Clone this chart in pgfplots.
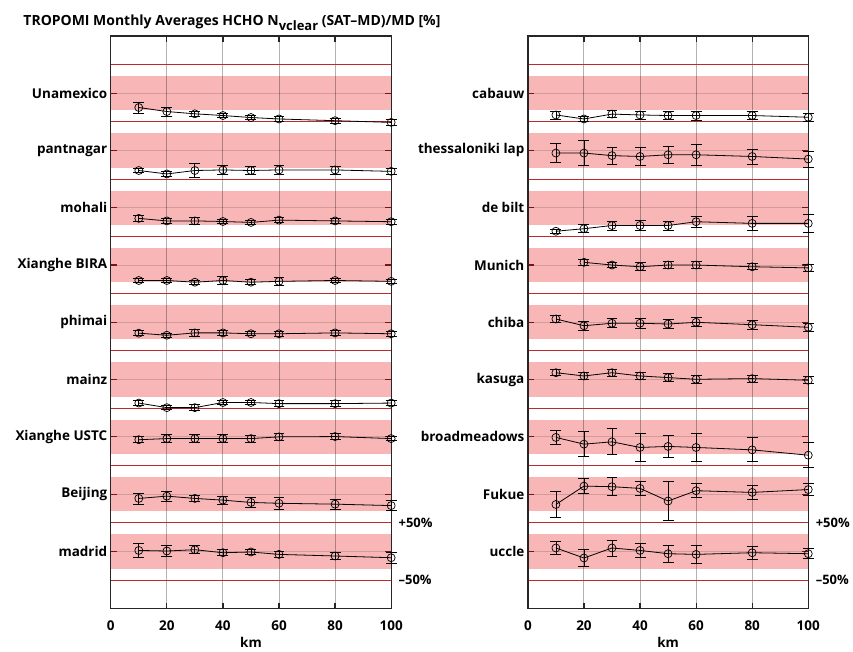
\documentclass[border=0pt]{standalone}
\usepackage{fontspec}
\setmainfont{Open Sans}
\usepackage{pgfplots}
\pgfplotsset{compat=1.18}
\definecolor{band}{RGB}{249,182,182}
\definecolor{redline}{RGB}{192,42,46}
\definecolor{tickred}{RGB}{120,20,25}

\pgfplotsset{
  stationaxis/.style={
    set layers, clip=false,
    scale only axis, width=281pt, height=574pt,
    xmin=0, xmax=100, ymin=-100, ymax=900,
    xtick={0,20,...,100}, ytick={0,100,...,800},
    tick align=inside, major tick length=6pt,
    xtick pos=both, ytick pos=both,
    axis line style={line width=1.3pt, black!85},
    xtick style={line width=1.2pt, black!85},
    ytick style={line width=1.2pt, tickred},
    /pgf/number format/assume math mode=true,
    xticklabel style={font=\bfseries\fontsize{13.5}{15}\selectfont, yshift=-9pt},
    yticklabel style={font=\bfseries\fontsize{13.5}{15}\selectfont},
    xlabel={km}, xlabel style={font=\bfseries\fontsize{13.5}{15}\selectfont, yshift=1pt},
  },
  stn/.style={black, line width=0.8pt, mark=o, mark size=4pt,
    mark options={line width=0.7pt},
    error bars/.cd, y dir=both, y explicit,
    error bar style={line width=0.8pt, black},
    error mark options={rotate=90, mark size=5.5pt, line width=0.8pt, black}},
}

\newcommand{\decor}{%
  \begin{pgfonlayer}{axis background}
    \pgfplotsinvokeforeach{0,...,8}{\fill[band] (axis cs:0,{##1*100-30}) rectangle (axis cs:100,{##1*100+30});}
    \pgfplotsinvokeforeach{20,40,60,80}{\draw[black, opacity=0.3, line width=1pt] (axis cs:##1,-100) -- (axis cs:##1,900);}
    \pgfplotsinvokeforeach{0,...,8}{\draw[black, opacity=0.15, line width=0.9pt] (axis cs:0,{##1*100}) -- (axis cs:100,{##1*100});}
    \pgfplotsinvokeforeach{0,...,9}{\draw[redline, line width=0.9pt] (axis cs:0,{##1*100-50}) -- (axis cs:100,{##1*100-50});}
  \end{pgfonlayer}
  \node[anchor=west, font=\bfseries\fontsize{13}{15}\selectfont, xshift=4pt] at (axis cs:100,50) {+50\%};
  \node[anchor=west, font=\bfseries\fontsize{13}{15}\selectfont, xshift=4pt] at (axis cs:100,-50) {–50\%};
}

\begin{document}
\begin{tikzpicture}
\path (0,0) rectangle (853pt,653pt);
\node[anchor=base west, font=\bfseries\fontsize{14}{16}\selectfont] at (20pt,627pt)
  {TROPOMI Monthly Averages HCHO N\raisebox{-5pt}{\fontsize{13}{13}\selectfont vclear} (SAT–MD)/MD [\%]};

% left panel
\begin{axis}[stationaxis, at={(111pt,43pt)}, anchor=south west,
  yticklabels={madrid,Beijing,Xianghe USTC,mainz,phimai,Xianghe BIRA,mohali,pantnagar,Unamexico}]
\decor
% Unamexico
\addplot[stn] table[row sep=\\, x=x, y expr=\thisrow{y}+800, y error=e] {x y e\\
10 -25 9.6\\ 20 -32 8\\ 30 -36 5\\ 40 -39 4\\ 50 -42.5 4\\ 60 -45 4\\ 80 -48 4\\ 100 -51 4.5\\};
% pantnagar
\addplot[stn] table[row sep=\\, x=x, y expr=\thisrow{y}+700, y error=e] {x y e\\
10 -35 3.5\\ 20 -41 4\\ 30 -35 12\\ 40 -34 8\\ 50 -35 7\\ 60 -34 8\\ 80 -34 7\\ 100 -36.5 6\\};
% mohali
\addplot[stn] table[row sep=\\, x=x, y expr=\thisrow{y}+600, y error=e] {x y e\\
10 -18.6 4.5\\ 20 -23 4.5\\ 30 -23 5.5\\ 40 -24 3.5\\ 50 -25.6 3\\ 60 -21.6 4\\ 80 -23 4\\ 100 -24.4 4.5\\};
% Xianghe BIRA
\addplot[stn] table[row sep=\\, x=x, y expr=\thisrow{y}+500, y error=e] {x y e\\
10 -27 4\\ 20 -27 4\\ 30 -30 3.5\\ 40 -27 7\\ 50 -30 4.5\\ 60 -28.5 7\\ 80 -27 4\\ 100 -28.5 4\\};
% phimai
\addplot[stn] table[row sep=\\, x=x, y expr=\thisrow{y}+400, y error=e] {x y e\\
10 -19 4.5\\ 20 -22.6 3.5\\ 30 -18.5 5.5\\ 40 -18.5 4.5\\ 50 -20 3.5\\ 60 -20 4\\ 80 -18.5 5\\ 100 -20 4.5\\};
% mainz
\addplot[stn] table[row sep=\\, x=x, y expr=\thisrow{y}+300, y error=e] {x y e\\
10 -41 4.5\\ 20 -49 3.5\\ 30 -49 5\\ 40 -40 3.5\\ 50 -40 4\\ 60 -42 5\\ 80 -42 5\\ 100 -41 4\\};
% Xianghe USTC
\addplot[stn] table[row sep=\\, x=x, y expr=\thisrow{y}+200, y error=e] {x y e\\
10 -5 5\\ 20 -3 7\\ 30 -3 7\\ 40 -3 7\\ 50 -3 6\\ 60 0 6\\ 80 0.5 5\\ 100 -3 4\\};
% Beijing
\addplot[stn] table[row sep=\\, x=x, y expr=\thisrow{y}+100, y error=e] {x y e\\
10 -7.5 9.6\\ 20 -3.5 9\\ 30 -7.5 6\\ 40 -10.5 7\\ 50 -14.5 8\\ 60 -16 11\\ 80 -17.5 9\\ 100 -20 9\\};
% madrid
\addplot[stn] table[row sep=\\, x=x, y expr=\thisrow{y}, y error=e] {x y e\\
10 1.7 12\\ 20 0.7 10\\ 30 3 7\\ 40 -2.3 5\\ 50 -1 4.5\\ 60 -5.2 6\\ 80 -8 6\\ 100 -11 10\\};
\end{axis}

% right panel
\begin{axis}[stationaxis, at={(529pt,43pt)}, anchor=south west,
  yticklabels={uccle,Fukue,broadmeadows,kasuga,chiba,Munich,de bilt,thessaloniki lap,cabauw}]
\decor
% cabauw
\addplot[stn] table[row sep=\\, x=x, y expr=\thisrow{y}+800, y error=e] {x y e\\
10 -38 7\\ 20 -45 5\\ 30 -36.5 6\\ 40 -38 7\\ 50 -39 7\\ 60 -39 8\\ 80 -39 7\\ 100 -42 7\\};
% thessaloniki lap
\addplot[stn] table[row sep=\\, x=x, y expr=\thisrow{y}+700, y error=e] {x y e\\
10 -4.5 17\\ 20 -4.5 22\\ 30 -9 14.5\\ 40 -10.5 15\\ 50 -7.5 14.5\\ 60 -7.5 18\\ 80 -10.5 13\\ 100 -15 14\\};
% de bilt
\addplot[stn] table[row sep=\\, x=x, y expr=\thisrow{y}+600, y error=e] {x y e\\
10 -41 4\\ 20 -36.6 7\\ 30 -31 8\\ 40 -31 9\\ 50 -31 8\\ 60 -24.4 10\\ 80 -27.3 12\\ 100 -27.3 16\\};
% Munich
\addplot[stn] table[row sep=\\, x=x, y expr=\thisrow{y}+500, y error=e] {x y e\\
20 4.7 4.5\\ 30 0 5\\ 40 -3 7\\ 50 0 6\\ 60 0 6\\ 80 -3 5\\ 100 -5 6\\};
% chiba
\addplot[stn] table[row sep=\\, x=x, y expr=\thisrow{y}+400, y error=e] {x y e\\
10 5.8 6\\ 20 -6 8\\ 30 -1.7 8\\ 40 -1.7 8.5\\ 50 -3 8\\ 60 0 8\\ 80 -4.2 8\\ 100 -8.7 7\\};
% kasuga
\addplot[stn] table[row sep=\\, x=x, y expr=\thisrow{y}+300, y error=e] {x y e\\
10 12 5.5\\ 20 6.3 6\\ 30 12 6\\ 40 6.3 6\\ 50 3.5 6.5\\ 60 0.5 6.5\\ 80 1.7 6\\ 100 -1.2 6\\};
% broadmeadows
\addplot[stn] table[row sep=\\, x=x, y expr=\thisrow{y}+200, y error=e] {x y e\\
10 -1 12\\ 20 -12.7 22\\ 30 -8.7 22.6\\ 40 -18.5 24\\ 50 -16.7 20\\ 60 -18.5 24\\ 80 -22.7 21\\ 100 -32 22\\};
% Fukue
\addplot[stn] table[row sep=\\, x=x, y expr=\thisrow{y}+100, y error=e] {x y e\\
10 -18 22\\ 20 14 13\\ 30 13 16\\ 40 10 13\\ 50 -12 34\\ 60 6 12\\ 80 3 12\\ 100 8 11\\};
% uccle
\addplot[stn] table[row sep=\\, x=x, y expr=\thisrow{y}, y error=e] {x y e\\
10 6 12\\ 20 -11.5 15\\ 30 6 14\\ 40 1.7 12.5\\ 50 -4 14.5\\ 60 -5.2 15\\ 80 -2.3 11\\ 100 -4 9\\};
\end{axis}
\end{tikzpicture}
\end{document}
